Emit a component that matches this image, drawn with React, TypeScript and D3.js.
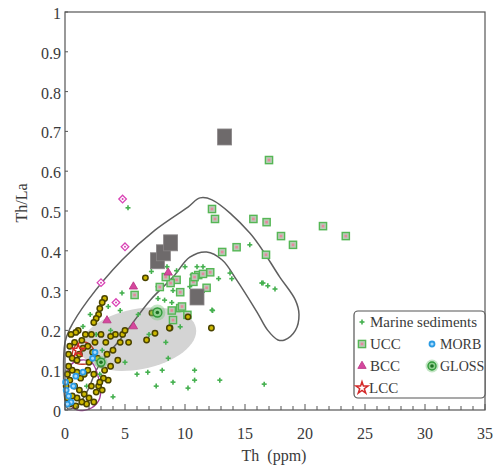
import React from "react";
import * as d3 from "d3";

const xTicks = [0, 5, 10, 15, 20, 25, 30, 35];
const yTicks = [0, 0.1, 0.2, 0.3, 0.4, 0.5, 0.6, 0.7, 0.8, 0.9, 1];

const envelope: [number, number][] = [
  [0, 0.17], [0.42, 0.205], [1.92, 0.276], [4.75, 0.377], [7.5, 0.452], [10.25, 0.51],
  [11.25, 0.533], [12.25, 0.528], [15.4, 0.445], [17.9, 0.334], [19.2, 0.276], [19.5, 0.24],
  [19.2, 0.2], [18.3, 0.176], [17.75, 0.176], [16.9, 0.2], [16, 0.246], [14.3, 0.327],
  [13.1, 0.377], [11.8, 0.397], [10.4, 0.384], [9, 0.334], [7.1, 0.276], [4.75, 0.183],
  [2.75, 0.108], [1.9, 0.05], [1.1, 0.013], [0.25, 0.003], [0, 0.025],
];

const ellipseCenter: [number, number] = [6.1, 0.178];
const ellipseRadii: [number, number] = [4.9, 0.076];

const redField: [number, number][] = [
  [0.6, 0.14], [1.0, 0.165], [1.8, 0.17], [2.4, 0.15], [2.2, 0.12], [1.4, 0.115], [0.8, 0.12],
];
const purpleField: [number, number][] = [
  [0.4, 0.11], [1.2, 0.125], [2.2, 0.12], [2.8, 0.08], [2.9, 0.03], [2.2, 0.005], [1.0, 0.0], [0.3, 0.02], [0.2, 0.07],
];

const marine: [number, number][] = [
  [5.25, 0.508], [4.75, 0.294], [4.6, 0.25], [3.8, 0.2], [2.1, 0.24], [7.2, 0.348], [7.75, 0.31],
  [9.0, 0.3], [7.75, 0.28], [6.1, 0.24], [8.6, 0.13], [6.9, 0.095], [8.1, 0.1], [9.0, 0.07],
  [10.25, 0.055], [10.8, 0.1], [10.8, 0.075], [4.0, 0.033], [3.1, 0.15], [12.9, 0.075],
  [16.6, 0.065], [16.4, 0.319], [16.9, 0.312], [17.5, 0.304], [12.25, 0.251], [9.6, 0.209],
  [8.3, 0.276], [15.4, 0.415], [13.75, 0.344], [16.5, 0.319], [12.3, 0.25], [11.0, 0.36],
  [10.0, 0.36], [9.3, 0.35], [8.5, 0.36], [11.6, 0.3], [10.4, 0.31], [12.8, 0.33], [8.9, 0.27],
  [7.0, 0.19], [8.4, 0.17], [6.0, 0.09], [5.0, 0.12], [3.6, 0.26], [2.6, 0.19], [1.5, 0.21],
  [7.6, 0.06], [1.8, 0.06], [2.9, 0.09], [13.9, 0.33], [11.5, 0.36], [10.6, 0.34],
];

const ucc: [number, number][] = [
  [17.0, 0.628], [12.25, 0.505], [12.5, 0.48], [15.7, 0.48], [16.8, 0.472], [18.0, 0.437],
  [21.5, 0.462], [23.4, 0.437], [19.0, 0.415], [14.3, 0.409], [13.1, 0.397], [16.75, 0.39],
  [9.3, 0.327], [10.7, 0.322], [11.1, 0.339], [12.1, 0.346], [11.5, 0.342], [9.6, 0.296],
  [7.9, 0.309], [8.8, 0.319], [11.8, 0.307], [9.6, 0.256], [9.0, 0.226], [10.2, 0.239],
  [8.4, 0.334], [5.8, 0.289], [8.9, 0.25], [10.8, 0.334], [9.75, 0.26],
];

const grayBlocks: [number, number][] = [
  [13.3, 0.686], [7.7, 0.375], [8.2, 0.395], [8.8, 0.42], [11.0, 0.284],
];

const yellow: [number, number][] = [
  [6.7, 0.332], [3.3, 0.28], [3.1, 0.27], [2.9, 0.255], [2.8, 0.24], [2.6, 0.23], [2.4, 0.22],
  [1.1, 0.2], [0.9, 0.195], [0.5, 0.19], [7.25, 0.244], [7.5, 0.193], [6.8, 0.176], [8.75, 0.206],
  [10.25, 0.234], [8.7, 0.206], [12.2, 0.206], [4.2, 0.19], [4.8, 0.19], [3.8, 0.185], [4.0, 0.15],
  [4.4, 0.125], [3.6, 0.075], [2.8, 0.06], [5.3, 0.17], [5.0, 0.2], [4.6, 0.17], [3.4, 0.17],
  [3.0, 0.19], [2.5, 0.17], [2.2, 0.19], [1.7, 0.19], [1.4, 0.175], [0.8, 0.17], [0.4, 0.16],
  [0.3, 0.14], [0.6, 0.13], [1.0, 0.125], [1.5, 0.155], [1.9, 0.16], [2.3, 0.145], [2.7, 0.13],
  [3.0, 0.115], [3.3, 0.1], [3.2, 0.08], [2.9, 0.07], [3.1, 0.05], [2.6, 0.045], [2.2, 0.06],
  [2.4, 0.09], [1.9, 0.1], [1.6, 0.09], [1.3, 0.08], [1.0, 0.095], [0.6, 0.1], [0.3, 0.11],
  [0.2, 0.09], [0.4, 0.075], [0.8, 0.06], [1.2, 0.05], [1.6, 0.04], [2.0, 0.03], [2.4, 0.02],
  [1.8, 0.015], [1.4, 0.02], [1.0, 0.03], [0.6, 0.035], [0.2, 0.03], [0.9, 0.01], [0.4, 0.015],
  [3.5, 0.14], [3.8, 0.11], [2.0, 0.12], [1.2, 0.14], [0.1, 0.06],
];

const diamonds: [number, number][] = [[4.8, 0.53], [5.0, 0.41], [3.0, 0.32], [4.25, 0.27]];
const bcc: [number, number][] = [[5.7, 0.31], [3.5, 0.225], [5.7, 0.21], [8.6, 0.345]];
const lcc: [number, number][] = [[1.1, 0.15]];
const morb: [number, number][] = [
  [2.3, 0.13], [2.5, 0.145], [0.9, 0.085], [0.7, 0.06], [0.1, 0.05], [0.3, 0.035], [0.05, 0.07],
  [0.5, 0.02], [1.5, 0.095], [0.2, 0.015],
];
const gloss: [number, number][] = [[7.7, 0.245], [3.0, 0.12]];

const W = 493, H = 470;
const x = d3.scaleLinear().domain([0, 35]).range([65, 485]);
const y = d3.scaleLinear().domain([0, 1]).range([410, 12]);

const FONT = "Liberation Serif, DejaVu Serif, serif";
const TXT = "#3a3a3a";

const closedCurve = d3.line<[number, number]>().x(d => x(d[0])).y(d => y(d[1])).curve(d3.curveCatmullRomClosed.alpha(0.5));

function ellipsePath() {
  const cx = x(ellipseCenter[0]), cy = y(ellipseCenter[1]);
  const a = x(ellipseRadii[0]) - x(0);
  const b = y(0) - y(ellipseRadii[1]);
  const ang = (-11 * Math.PI) / 180;
  const pts: [number, number][] = d3.range(0, 64).map(i => {
    const t = (i / 64) * Math.PI * 2;
    const ex = a * Math.cos(t), ey = b * Math.sin(t);
    return [cx + ex * Math.cos(ang) - ey * Math.sin(ang), cy + ex * Math.sin(ang) + ey * Math.cos(ang)];
  });
  return "M" + pts.map(p => p.join(",")).join("L") + "Z";
}

const starPath = d3.symbol(d3.symbolStar, 45)() as string;
const triPath = d3.symbol(d3.symbolTriangle, 30)() as string;

function Plus({ cx, cy }: { cx: number; cy: number }) {
  return (
    <g transform={`translate(${cx},${cy})`} stroke="#45b04f" strokeWidth={1.6}>
      <line x1={-2.5} x2={2.5} y1={0} y2={0} />
      <line x1={0} x2={0} y1={-2.5} y2={2.5} />
    </g>
  );
}
function UccMark({ cx, cy }: { cx: number; cy: number }) {
  return (
    <g transform={`translate(${cx},${cy})`}>
      <rect x={-3.6} y={-3.6} width={7.2} height={7.2} fill="#b9c9b6" stroke="#55b755" strokeWidth={1.4} />
      <rect x={-1.3} y={-1.3} width={2.6} height={2.6} fill="#e8879e" />
    </g>
  );
}
function YellowMark({ cx, cy }: { cx: number; cy: number }) {
  return <circle cx={cx} cy={cy} r={2.7} fill="#cdb800" stroke="#4a4300" strokeWidth={1.5} />;
}
function DiamondMark({ cx, cy }: { cx: number; cy: number }) {
  return (
    <g transform={`translate(${cx},${cy})`}>
      <path d="M0,-3.8L3.8,0L0,3.8L-3.8,0Z" fill="#fff" stroke="#d943b5" strokeWidth={1.3} />
      <circle r={1} fill="#d943b5" />
    </g>
  );
}
function BccMark({ cx, cy }: { cx: number; cy: number }) {
  return <path transform={`translate(${cx},${cy})`} d={triPath} fill="#d6479f" stroke="#b8327f" strokeWidth={0.8} />;
}
function LccMark({ cx, cy }: { cx: number; cy: number }) {
  return <path transform={`translate(${cx},${cy})`} d={starPath} fill="none" stroke="#d42a2a" strokeWidth={1.5} />;
}
function MorbMark({ cx, cy }: { cx: number; cy: number }) {
  return <circle cx={cx} cy={cy} r={2.5} fill="#a9dcff" stroke="#2b9be3" strokeWidth={1.8} />;
}
function GlossMark({ cx, cy, big = true }: { cx: number; cy: number; big?: boolean }) {
  return (
    <g transform={`translate(${cx},${cy})`}>
      <circle r={big ? 8 : 6.5} fill="#7cc77e" opacity={0.45} />
      <circle r={big ? 4.5 : 4} fill="#8fd08f" stroke="#2f9a38" strokeWidth={1.4} />
      <circle r={1.8} fill="#1d6e22" />
    </g>
  );
}

export default function App() {
  const minorX = d3.range(0, 36, 1);
  const x0 = x(0), x1 = x(35), y0 = y(0), y1 = y(1);
  const tf = { fontFamily: FONT };
  return (
    <svg width={W} height={H} style={{ position: "absolute", left: 0, top: 0, background: "#fff" }}>
      <rect width={W} height={H} fill="#fff" />
      <path d={ellipsePath()} fill="#d4d4d4" />
      <path d={closedCurve(envelope) as string} fill="none" stroke="#5f5f5f" strokeWidth={1.5} />
      <path d={closedCurve(redField) as string} fill="none" stroke="#c0392b" strokeWidth={1.3} />
      <path d={closedCurve(purpleField) as string} fill="none" stroke="#a23a9a" strokeWidth={1.3} />

      {marine.map((d, i) => <Plus key={"m" + i} cx={x(d[0])} cy={y(d[1])} />)}
      {ucc.map((d, i) => <UccMark key={"u" + i} cx={x(d[0])} cy={y(d[1])} />)}
      {grayBlocks.map((d, i) => (
        <rect key={"g" + i} x={x(d[0]) - 7} y={y(d[1]) - 8} width={14} height={16} fill="#6e6a6b" stroke="#8a8687" strokeWidth={0.8} />
      ))}
      {yellow.map((d, i) => <YellowMark key={"y" + i} cx={x(d[0])} cy={y(d[1])} />)}
      {diamonds.map((d, i) => <DiamondMark key={"d" + i} cx={x(d[0])} cy={y(d[1])} />)}
      {bcc.map((d, i) => <BccMark key={"b" + i} cx={x(d[0])} cy={y(d[1])} />)}
      {morb.map((d, i) => <MorbMark key={"o" + i} cx={x(d[0])} cy={y(d[1])} />)}
      {lcc.map((d, i) => <LccMark key={"l" + i} cx={x(d[0])} cy={y(d[1])} />)}
      {gloss.map((d, i) => <GlossMark key={"s" + i} cx={x(d[0])} cy={y(d[1])} big={i === 0} />)}

      <rect x={x0} y={y1} width={x1 - x0} height={y0 - y1} fill="none" stroke="#555" strokeWidth={1.2} />
      {minorX.map(v => (
        <line key={"tx" + v} x1={x(v)} x2={x(v)} y1={y0} y2={y0 - (v % 5 === 0 ? 6 : 4)} stroke="#555" strokeWidth={1} />
      ))}
      {yTicks.map(v => (
        <line key={"ty" + v} x1={x0} x2={x0 + 3} y1={y(v)} y2={y(v)} stroke="#555" strokeWidth={1} />
      ))}
      {xTicks.map(v => (
        <text key={"lx" + v} x={x(v)} y={439} textAnchor="middle" fontSize={16} fill={TXT} style={tf}>{v}</text>
      ))}
      {yTicks.map(v => (
        <text key={"ly" + v} x={61} y={y(v) + 7} textAnchor="end" fontSize={16} fill={TXT} style={tf}>{v}</text>
      ))}
      <text x={274} y={461} textAnchor="middle" fontSize={16} fill={TXT} style={tf} xmlSpace="preserve">Th  (ppm)</text>
      <text transform={`translate(27,${y(0.52)}) rotate(-90)`} textAnchor="middle" fontSize={16} fill={TXT} style={tf}>Th/La</text>

      <g>
        <rect x={354} y={311} width={131} height={87} rx={4} fill="#fff" stroke="#555" strokeWidth={1.2} />
        <Plus cx={362} cy={322} />
        <text x={370} y={327} fontSize={15} fill={TXT} style={tf}>Marine sediments</text>
        <UccMark cx={362} cy={344} />
        <text x={370} y={349} fontSize={15} fill={TXT} style={tf}>UCC</text>
        <MorbMark cx={432} cy={344} />
        <text x={440} y={349} fontSize={14} fill={TXT} style={tf}>MORB</text>
        <BccMark cx={362} cy={366} />
        <text x={370} y={371} fontSize={15} fill={TXT} style={tf}>BCC</text>
        <GlossMark cx={432} cy={366} big={false} />
        <text x={440} y={371} fontSize={14} fill={TXT} style={tf}>GLOSS</text>
        <LccMark cx={362} cy={388} />
        <text x={369} y={393} fontSize={15} fill={TXT} style={tf}>LCC</text>
      </g>
    </svg>
  );
}
